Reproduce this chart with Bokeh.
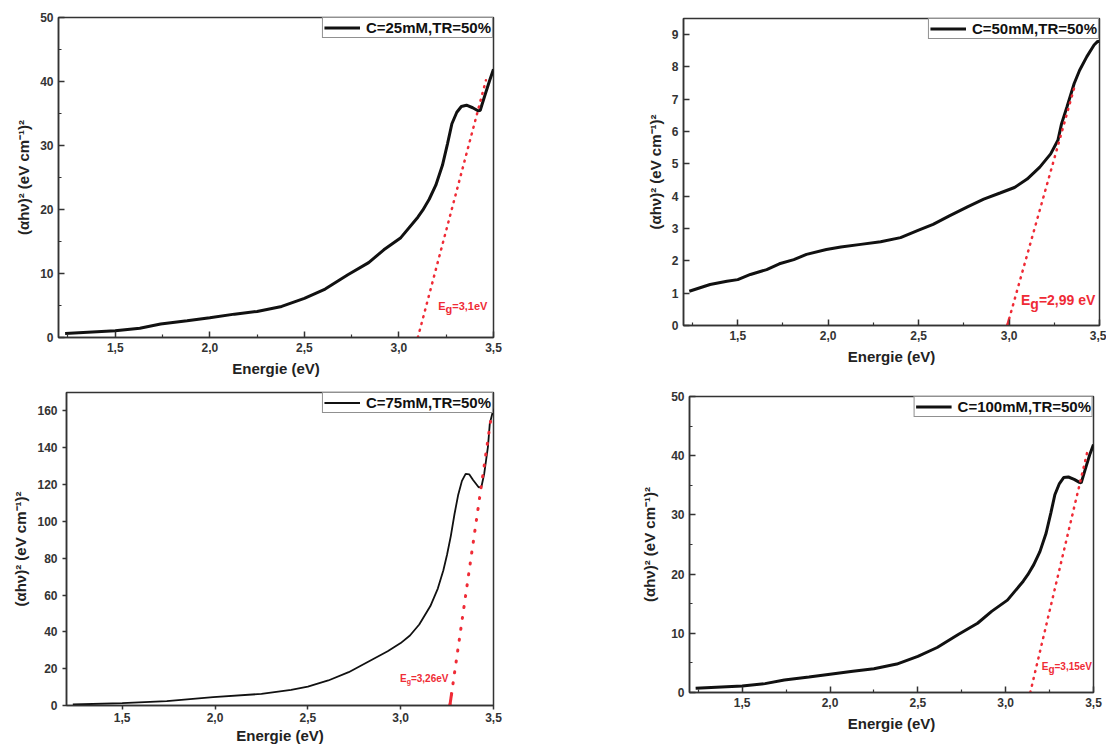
from bokeh.plotting import figure
from bokeh.models import Range1d, FixedTicker, CustomJSTickFormatter, Label
from bokeh.layouts import column, row
from bokeh.embed import file_html
from bokeh.resources import INLINE

# ---------------- data ----------------
e25 = [1.235, 1.50, 1.63, 1.74, 1.88, 2.00, 2.13, 2.25, 2.38, 2.50, 2.61, 2.73, 2.84, 2.92,
       3.01, 3.10, 3.126, 3.16, 3.195, 3.23, 3.257, 3.28, 3.306, 3.33, 3.357, 3.39, 3.42,
       3.43, 3.455, 3.48, 3.50]
a25 = [0.63, 1.04, 1.46, 2.1, 2.6, 3.1, 3.65, 4.07, 4.85, 6.1, 7.57, 9.8, 11.7, 13.7,
       15.6, 18.8, 19.9, 21.6, 23.8, 26.9, 30.3, 33.4, 35.2, 36.1, 36.3, 35.9, 35.4,
       35.5, 37.9, 40.2, 41.9]

e50 = [1.232, 1.347, 1.44, 1.50, 1.57, 1.66, 1.73, 1.81, 1.88, 1.99, 2.07, 2.18, 2.29, 2.40,
       2.50, 2.58, 2.67, 2.77, 2.86, 2.95, 3.03, 3.10, 3.17, 3.23, 3.27, 3.29, 3.32, 3.36,
       3.39, 3.43, 3.47, 3.49, 3.50]
a50 = [1.06, 1.27, 1.37, 1.42, 1.58, 1.73, 1.91, 2.04, 2.2, 2.35, 2.43, 2.51, 2.59, 2.72,
       2.95, 3.13, 3.39, 3.67, 3.91, 4.1, 4.27, 4.53, 4.9, 5.31, 5.73, 6.24, 6.76, 7.49,
       7.9, 8.32, 8.68, 8.79, 8.79]

e75 = [1.234, 1.50, 1.74, 1.99, 2.25, 2.41, 2.50, 2.61, 2.72, 2.82, 2.93, 3.00, 3.05, 3.10,
       3.16, 3.20, 3.23, 3.25, 3.27, 3.29, 3.31, 3.33, 3.35, 3.37, 3.39, 3.42, 3.435, 3.45,
       3.47, 3.48, 3.50]
a75 = [0.54, 1.27, 2.35, 4.5, 6.3, 8.5, 10.3, 13.6, 18.1, 23.5, 29.5, 33.9, 38.0, 44.0,
       54.0, 63.5, 73.5, 82.0, 92.0, 104.0, 114.5, 122.0, 125.8, 125.5, 122.5, 118.5, 118.8, 125.9,
       140.4, 153.1, 161.2]

e100 = [1.235, 1.50, 1.63, 1.74, 1.88, 2.00, 2.13, 2.25, 2.38, 2.50, 2.61, 2.73, 2.84, 2.92,
        3.01, 3.10, 3.126, 3.16, 3.195, 3.23, 3.257, 3.28, 3.306, 3.33, 3.357, 3.39, 3.42,
        3.43, 3.455, 3.48, 3.50]
a100 = [0.7, 1.1, 1.5, 2.1, 2.6, 3.1, 3.6, 4.0, 4.8, 6.1, 7.6, 9.8, 11.7, 13.7,
        15.6, 18.8, 19.9, 21.6, 23.8, 26.9, 30.3, 33.4, 35.3, 36.3, 36.4, 36.0, 35.5,
        35.4, 37.9, 40.3, 41.9]

labels = ["C=25mM,TR=50%", "C=50mM,TR=50%", "C=75mM,TR=50%", "C=100mM,TR=50%"]
eg_text = ["3,1eV", "2,99 eV", "3,26eV", "3,15eV"]

# tangent (dotted) lines: from the Eg intercept to the upper point
tan25_x, tan25_y = [3.10, 3.46], [0, 40.2]
tan50_x, tan50_y = [2.99, 3.36], [0, 7.35]
tan75_x, tan75_y = [3.265, 3.49], [0, 158.5]
tan100_x, tan100_y = [3.14, 3.47], [0, 41.3]
# short solid pieces of the tangent near the axis
seg50_x, seg50_y = [2.99, 3.0], [0, 0.2]
seg75_x, seg75_y = [3.265, 3.275], [0, 7.0]

x_major = [1.5, 2.0, 2.5, 3.0, 3.5]
x_minor = [1.25, 1.75, 2.25, 2.75, 3.25]

RED = "#ef2b36"
FONT = "Liberation Sans"
YLABEL = "(\u03b1h\u03bd)\u00b2 (eV cm\u207b\u00b9)\u00b2"
XLABEL = "Energie (eV)"


def make_fig(width, height, bl, br, bt, bb, ymax, yticks, yminor, inward=True):
    p = figure(width=width, height=height, min_border_left=bl, min_border_right=br,
               min_border_top=bt, min_border_bottom=bb,
               x_range=Range1d(1.2, 3.5), y_range=Range1d(0, ymax),
               output_backend="svg", toolbar_location=None)
    p.grid.visible = False
    p.outline_line_color = "#333333"
    p.outline_line_width = 1.5
    p.background_fill_color = "white"
    p.border_fill_color = "white"
    p.xaxis.ticker = FixedTicker(ticks=x_major, minor_ticks=x_minor if inward else [])
    p.yaxis.ticker = FixedTicker(ticks=yticks, minor_ticks=yminor if inward else [])
    p.xaxis.formatter = CustomJSTickFormatter(code="return tick.toFixed(1).replace('.', ',');")
    p.xaxis.axis_label = XLABEL
    p.yaxis.axis_label = YLABEL
    for ax in (p.xaxis[0], p.yaxis[0]):
        ax.axis_line_color = "#333333"
        ax.axis_line_width = 1.5
        ax.major_tick_line_color = "#333333"
        ax.minor_tick_line_color = "#333333"
        ax.major_tick_line_width = 1.5
        ax.minor_tick_line_width = 1.2
        if inward:
            ax.major_tick_in = 6
            ax.major_tick_out = 0
            ax.minor_tick_in = 3
            ax.minor_tick_out = 0
        else:
            ax.major_tick_in = 0
            ax.major_tick_out = 4
            ax.minor_tick_in = 0
            ax.minor_tick_out = 0
        ax.major_label_text_font = FONT
        ax.major_label_text_font_style = "bold"
        ax.major_label_text_font_size = "12px"
        ax.major_label_text_color = "#333333"
        ax.axis_label_text_font = FONT
        ax.axis_label_text_font_style = "bold"
        ax.axis_label_text_font_size = "15px"
        ax.axis_label_text_color = "#222222"
        ax.major_label_standoff = 5
        ax.axis_label_standoff = 5
    return p


def style_legend(p):
    lg = p.legend[0]
    lg.location = "top_right"
    lg.margin = 0
    lg.padding = 1
    lg.spacing = 0
    lg.glyph_width = 36
    lg.glyph_height = 17
    lg.label_height = 17
    lg.label_standoff = 6
    lg.label_text_font = FONT
    lg.label_text_font_style = "bold"
    lg.label_text_font_size = "15px"
    lg.label_text_color = "#111111"
    lg.border_line_color = "#222222"
    lg.border_line_width = 1.5
    lg.background_fill_alpha = 1.0


def eg_label(p, x, y, value, size, gsize, e_w, g_w, g_drop):
    common = dict(text_color=RED, text_font=FONT, text_font_style="bold",
                  text_baseline="alphabetic", text_align="left")
    p.add_layout(Label(x=x, y=y, text="E", text_font_size=f"{size}px", **common))
    p.add_layout(Label(x=x, y=y, x_offset=e_w, y_offset=-g_drop, text="g",
                       text_font_size=f"{gsize}px", **common))
    p.add_layout(Label(x=x, y=y, x_offset=e_w + g_w, text="=" + value,
                       text_font_size=f"{size}px", **common))


# ---------------- panel 1 : 25 mM ----------------
p1 = make_fig(568, 384, 58, 75, 17, 47, 50, [0, 10, 20, 30, 40, 50], [5, 15, 25, 35, 45])
p1.line(e25, a25, line_width=3, color="#111111", legend_label=labels[0])
p1.line(tan25_x, tan25_y, line_width=2.5, color=RED, line_dash="1 6", line_cap="round")
style_legend(p1)
eg_label(p1, 3.208, 5.0, eg_text[0], 11, 11, 7.3, 6.7, 3)

# ---------------- panel 2 : 50 mM ----------------
p2 = make_fig(538, 384, 115, 7, 18, 59, 9.5, list(range(0, 10)), [])
p2.line(e50, a50, line_width=3, color="#111111", legend_label=labels[1])
p2.line(tan50_x, tan50_y, line_width=2.5, color=RED, line_dash="1 6", line_cap="round")
p2.line(seg50_x, seg50_y, line_width=2.5, color=RED)
style_legend(p2)
eg_label(p2, 3.066, 0.78, eg_text[1], 14, 14, 9.3, 8.6, 4)

# ---------------- panel 3 : 75 mM ----------------
p3 = make_fig(568, 362, 66, 75, 8, 41, 170, [0, 20, 40, 60, 80, 100, 120, 140, 160], [],
              inward=False)
p3.line(e75, a75, line_width=1.8, color="#111111", legend_label=labels[2])
p3.line(tan75_x, tan75_y, line_width=3, color=RED, line_dash="1 10", line_cap="round")
p3.line(seg75_x, seg75_y, line_width=3, color=RED)
style_legend(p3)
p3.xaxis.major_label_standoff = 3
p3.xaxis.axis_label_standoff = 2
eg_label(p3, 2.996, 14.7, eg_text[2], 10, 7, 6.7, 4.3, 3)

# ---------------- panel 4 : 100 mM ----------------
p4 = make_fig(538, 362, 121, 13, 12, 54, 50, [0, 10, 20, 30, 40, 50], [5, 15, 25, 35, 45])
p4.line(e100, a100, line_width=3, color="#111111", legend_label=labels[3])
p4.line(tan100_x, tan100_y, line_width=2.5, color=RED, line_dash="1 6", line_cap="round")
style_legend(p4)
p4.yaxis.axis_label_standoff = 10
eg_label(p4, 3.205, 4.4, eg_text[3], 10, 10, 6.7, 6.1, 3)

# each figure wrapped on its own so the frames are not aligned across a row
layout = column(row(column(p1), column(p2)), row(column(p3), column(p4)))
open("out.html", "w").write(file_html(layout, INLINE))
